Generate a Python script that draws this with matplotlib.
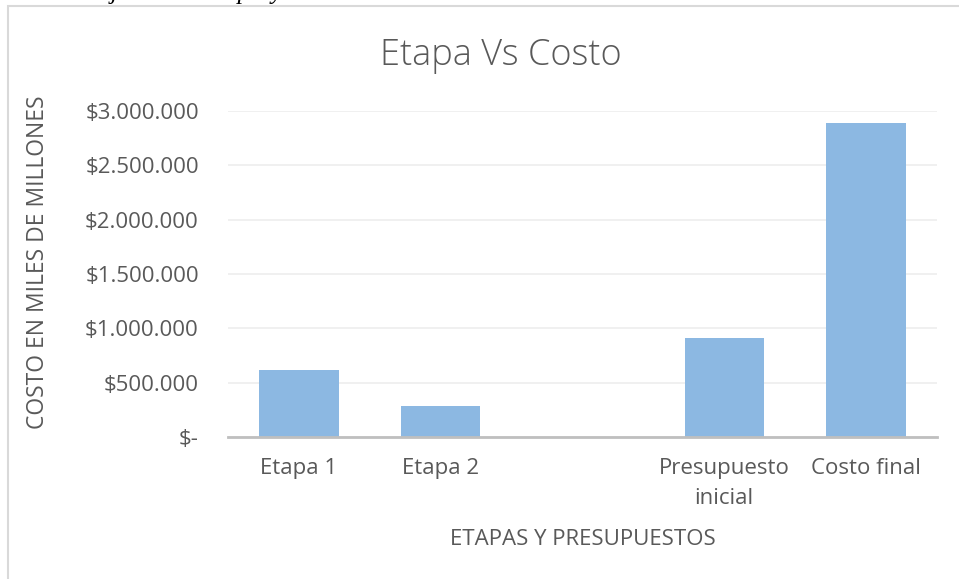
import matplotlib

matplotlib.use("Agg")
import matplotlib.pyplot as plt
from matplotlib.patches import Rectangle
from matplotlib.ticker import FuncFormatter

categories = ["Etapa 1", "Etapa 2", "", "Presupuesto\ninicial", "Costo final"]
costos = [620000, 285000, 0, 910000, 2890000]
y_ticks = [0, 500000, 1000000, 1500000, 2000000, 2500000, 3000000]

plt.rcParams["font.family"] = ["Open Sans", "DejaVu Sans"]
GRIS = "#595959"


def moneda(v, _pos):
    if v == 0:
        return "$-"
    return "$" + f"{int(v):,}".replace(",", ".")


fig = plt.figure(figsize=(9.59, 5.79), dpi=100)
W, H = 959, 579
ax = fig.add_axes([228 / W, 1 - 437 / H, (937 - 228) / W, (437 - 111) / H])

# marco del gráfico (recortado a la derecha y abajo)
fig.patches.append(Rectangle((8 / W, -0.2), 1.2, 1 - 6 / H + 0.2, transform=fig.transFigure,
                             fill=False, edgecolor="#d9d9d9", linewidth=1.5))
# leyenda del documento, cortada por arriba
fig.text(18 / W, 1 + 0.5 / H, "Valores ajustados del proyecto", family="Liberation Serif",
         style="italic", fontsize=18, va="baseline", ha="left")

x = range(len(categories))
ax.bar(x, costos, width=0.56, color="#8cb8e2", zorder=2)

ax.set_xlim(-0.5, len(categories) - 0.5)
ax.set_ylim(0, 3000000)
ax.set_yticks(y_ticks)
ax.yaxis.set_major_formatter(FuncFormatter(moneda))
ax.set_xticks(list(x))
ax.set_xticklabels(categories, linespacing=1.6)
ax.tick_params(axis="both", length=0, labelsize=16, colors=GRIS)
ax.tick_params(axis="x", pad=15)
ax.tick_params(axis="y", pad=21)
ax.grid(axis="y", color="#eeeeee", linewidth=1.2, zorder=0)
for s in ["top", "right", "left"]:
    ax.spines[s].set_visible(False)
ax.spines["bottom"].set_color("#bfbfbf")
ax.spines["bottom"].set_linewidth(2)
ax.spines["bottom"].set_zorder(3)

fig.text(501 / W, 1 - 55 / H, "Etapa Vs Costo", fontsize=26, color=GRIS,
         fontweight="light", ha="center", va="center")
ax.set_xlabel("ETAPAS Y PRESUPUESTOS", fontsize=16, color=GRIS, labelpad=14)
ax.set_ylabel("COSTO EN MILES DE MILLONES", fontsize=16.5, color=GRIS)
ax.yaxis.set_label_coords(50 / W, 1 - 262 / H, transform=fig.transFigure)

fig.savefig("out.png", dpi=100)
